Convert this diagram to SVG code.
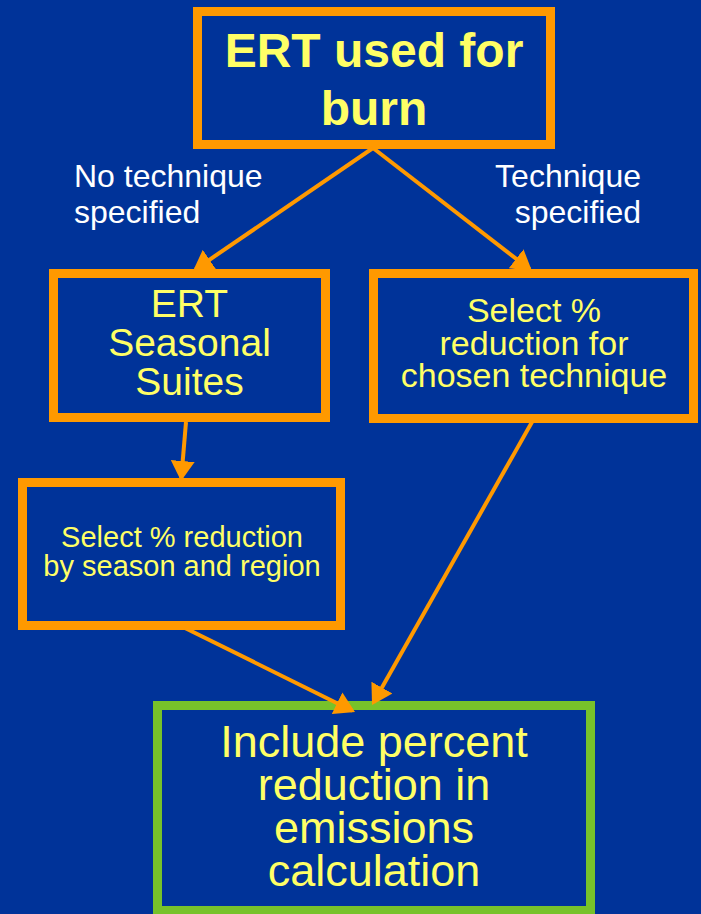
<svg xmlns="http://www.w3.org/2000/svg" width="701" height="914" viewBox="0 0 701 914">
<style>
.box{fill:#003399;stroke:#FF9900;stroke-width:9}
.final{fill:#003399;stroke:#77C22A;stroke-width:9}
.t{font-family:"Liberation Sans",Arial,sans-serif;fill:#FFFF66;text-anchor:middle}
.lbl{font-family:"Liberation Sans",Arial,sans-serif;fill:#FFFFFF;font-size:32px}
.conn line{stroke:#FF9900;stroke-width:4;marker-end:url(#ah)}
</style>
<defs>
<marker id="ah" markerUnits="userSpaceOnUse" markerWidth="22" markerHeight="24" refX="17" refY="12" orient="auto">
<path d="M0,0 L20,12 L0,24 Z" fill="#FF9900"/>
</marker>
</defs>
<rect width="701" height="914" fill="#003399"/>
<g id="n-ert">
<rect class="box" x="197.5" y="11.5" width="353" height="133"/>
<text class="t" x="374" y="67" font-size="48" font-weight="bold">ERT used for</text>
<text class="t" x="374" y="125" font-size="48" font-weight="bold">burn</text>
</g>
<g id="n-suites">
<rect class="box" x="53.5" y="273.5" width="272" height="144"/>
<text class="t" x="189.5" y="317" font-size="39">ERT</text>
<text class="t" x="189.5" y="356" font-size="39">Seasonal</text>
<text class="t" x="189.5" y="395" font-size="39">Suites</text>
</g>
<g id="n-technique">
<rect class="box" x="373.5" y="273.5" width="320" height="145"/>
<text class="t" x="534" y="322" font-size="34">Select %</text>
<text class="t" x="534" y="355" font-size="34">reduction for</text>
<text class="t" x="534" y="387" font-size="34">chosen technique</text>
</g>
<g id="n-season">
<rect class="box" x="22.5" y="482.5" width="318" height="143"/>
<text class="t" x="182" y="547" font-size="29">Select % reduction</text>
<text class="t" x="182" y="576" font-size="29">by season and region</text>
</g>
<g id="n-include">
<rect class="final" x="157.5" y="705.5" width="433" height="205"/>
<text class="t" x="374" y="757" font-size="45">Include percent</text>
<text class="t" x="374" y="800" font-size="45">reduction in</text>
<text class="t" x="374" y="843" font-size="45">emissions</text>
<text class="t" x="374" y="886" font-size="45">calculation</text>
</g>
<g id="labels">
<text class="lbl" x="74" y="187">No technique</text>
<text class="lbl" x="74" y="223">specified</text>
<text class="lbl" x="641" y="187" text-anchor="end">Technique</text>
<text class="lbl" x="641" y="223" text-anchor="end">specified</text>
</g>
<g id="connectors" class="conn">
<line x1="373" y1="148" x2="195.5" y2="269.3"/>
<line x1="373" y1="148" x2="529.6" y2="269.2"/>
<line x1="186" y1="422" x2="181.3" y2="478"/>
<line x1="185" y1="628" x2="352.3" y2="710.7"/>
<line x1="532" y1="422" x2="373.5" y2="702.4"/>
</g>
</svg>
